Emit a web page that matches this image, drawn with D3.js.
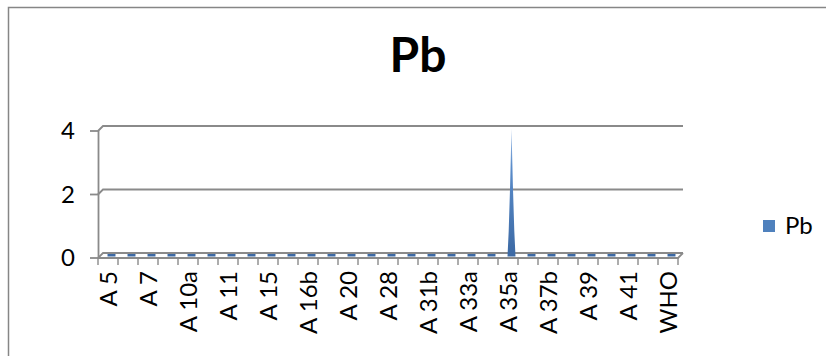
<!DOCTYPE html>
<html>
<head>
<meta charset="utf-8">
<script src="https://cdn.jsdelivr.net/npm/d3@7"></script>
<style>
  body { margin: 0; background: #fff; }
  svg { display: block; font-family: Lato, "Liberation Sans", sans-serif; }
</style>
</head>
<body>
<div id="chart"></div>
<script>
/* 3D-style area chart: Pb per sample */

const categories = ["A 5", "A 6", "A 7", "A 9", "A 10a", "A 10b", "A 11", "A 12", "A 15", "A 16a",
  "A 16b", "A 17", "A 20", "A 25", "A 28", "A 30", "A 31b", "A 32", "A 33a", "A 34",
  "A 35a", "A 36", "A 37b", "A 38", "A 39", "A 40", "A 41", "A 42", "WHO"];
const pbValues = [0.01, 0.01, 0.01, 0.01, 0.01, 0.01, 0.01, 0.01, 0.01, 0.01,
  0.01, 0.01, 0.01, 0.01, 0.01, 0.01, 0.01, 0.01, 0.01, 0.01,
  4.0, 0.01, 0.01, 0.01, 0.01, 0.01, 0.01, 0.01, 0.01];
const yTicks = [0, 2, 4];
const seriesName = "Pb";

const width = 826,
  height = 356,
  depth = 5; // offset of the back wall (x right, y up)

const x = d3.scaleBand().domain(categories).range([98, 678]).padding(0);
const y = d3.scaleLinear().domain([0, 4]).range([258, 131]);

const svg = d3.select("#chart")
  .append("svg")
  .attr("width", width)
  .attr("height", height);

// chart border (only top and left are inside the picture)
svg.append("rect")
  .attr("x", 8.5).attr("y", 7.5)
  .attr("width", width + 20).attr("height", height + 20)
  .attr("fill", "none")
  .attr("stroke", "#868686")
  .attr("stroke-width", 1.5);

svg.append("text")
  .attr("x", 418)
  .attr("y", 72)
  .attr("text-anchor", "middle")
  .attr("font-weight", "bold")
  .attr("font-size", 48)
  .text(seriesName);

const grid = svg.append("g")
  .attr("stroke", "#8a8a8a")
  .attr("stroke-width", 1.8)
  .attr("fill", "none");

// back wall gridlines plus the short diagonal on the side wall
grid.selectAll("path.gl")
  .data(yTicks)
  .join("path")
  .attr("class", "gl")
  .attr("d", d => `M${x.range()[0]},${y(d)}L${x.range()[0] + depth},${y(d) - depth}H${x.range()[1] + depth}`);

// floor: front edge and right diagonal
grid.append("path")
  .attr("d", `M${x.range()[0]},${y(0)}H${x.range()[1]}L${x.range()[1] + depth},${y(0) - depth}`);

// value axis line and ticks
grid.append("path")
  .attr("d", `M${x.range()[0] + 0.5},${y(4)}V${y(0)}`);
grid.selectAll("path.yt")
  .data(yTicks)
  .join("path")
  .attr("class", "yt")
  .attr("d", d => `M${x.range()[0] - 8},${y(d)}H${x.range()[0]}`);

// category ticks at band edges
const edges = categories.map(c => x(c)).concat([x.range()[1]]);
grid.selectAll("path.xt")
  .data(edges)
  .join("path")
  .attr("class", "xt")
  .attr("stroke-width", 1.4)
  .attr("d", d => `M${d},${y(0)}V${y(0) + 7}`);

svg.append("g")
  .attr("font-size", 24)
  .attr("text-anchor", "end")
  .selectAll("text")
  .data(yTicks)
  .join("text")
  .attr("x", 75)
  .attr("y", d => y(d))
  .attr("dy", "0.35em")
  .text(d => d);

svg.append("g")
  .attr("font-size", 24)
  .attr("text-anchor", "end")
  .selectAll("text")
  .data(categories.filter((c, i) => i % 2 === 0))
  .join("text")
  .attr("transform", d => `translate(${x(d) + x.bandwidth() / 2 + 1},271) rotate(-90)`)
  .attr("dy", "0.35em")
  .text(d => d);

// gradient for the area marks
const grad = svg.append("defs").append("linearGradient")
  .attr("id", "pbFill")
  .attr("gradientUnits", "userSpaceOnUse")
  .attr("x1", 0).attr("y1", y(4) - depth)
  .attr("x2", 0).attr("y2", y(0));
grad.append("stop").attr("offset", 0).attr("stop-color", "#a7c3e8");
grad.append("stop").attr("offset", 0.3).attr("stop-color", "#5b8dcb");
grad.append("stop").attr("offset", 1).attr("stop-color", "#3b68a3");

const line = d3.line().curve(d3.curveLinear);
svg.append("g")
  .selectAll("path")
  .data(categories.map((c, i) => ({ c, v: pbValues[i] })))
  .join("path")
  .attr("fill", "url(#pbFill)")
  .attr("d", d => {
    const cx = x(d.c) + x.bandwidth() / 2 + depth / 2 + 1,
      base = y(0) - depth / 2 + 1,
      hw = 4,
      top = Math.min(y(d.v) - depth / 2, base - 2.5);
    const h = base - top;
    if (h < 4) {
      // flat slab seen from above
      return `M${cx - hw},${base}H${cx + hw}V${top}H${cx - hw}Z`;
    }
    return line([
      [cx - hw, base],
      [cx - hw * 0.7, base - h * 0.2],
      [cx - hw * 0.35, base - h * 0.55],
      [cx, top],
      [cx + hw * 0.35, base - h * 0.55],
      [cx + hw * 0.7, base - h * 0.2],
      [cx + hw, base]
    ]) + "Z";
  });

// legend
const legend = svg.append("g").attr("transform", "translate(763,220)");
legend.append("rect")
  .attr("width", 12).attr("height", 12)
  .attr("fill", "#4f81bd");
legend.append("text")
  .attr("x", 22).attr("y", 6)
  .attr("dy", "0.35em")
  .attr("font-size", 24)
  .text(seriesName);
</script>
</body>
</html>
